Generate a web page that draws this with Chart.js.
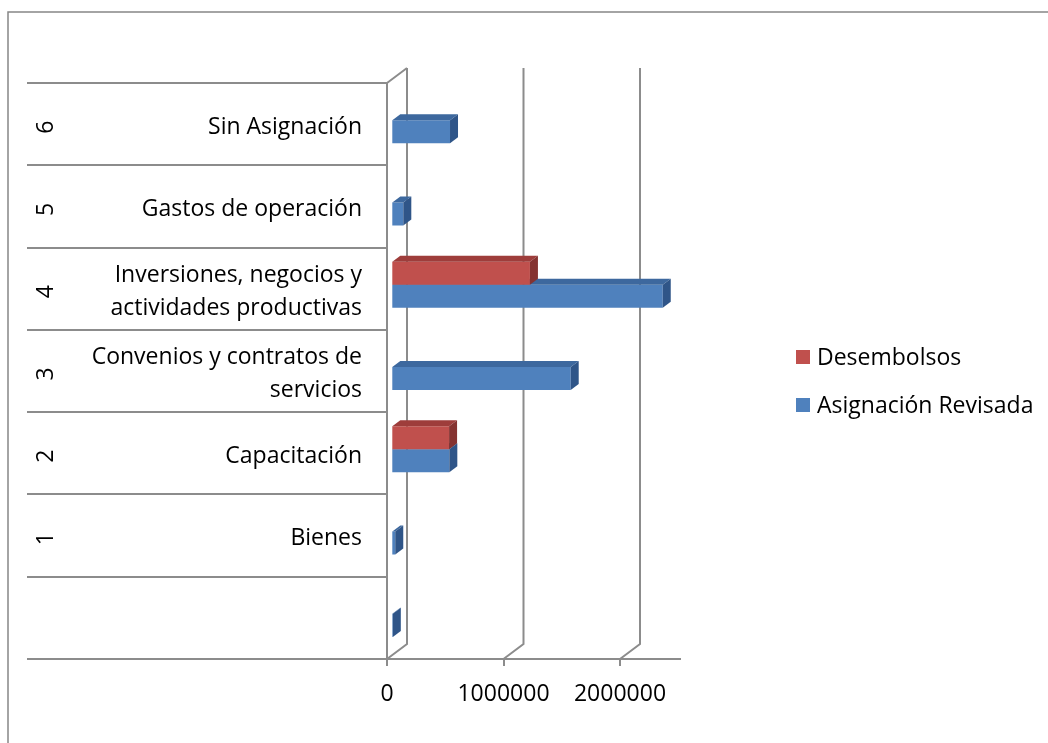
<!DOCTYPE html>
<html>
<head>
<meta charset="utf-8">
<script src="https://cdn.jsdelivr.net/npm/chart.js@4.4.0/dist/chart.umd.min.js"></script>
<style>
  html, body { margin: 0; padding: 0; background: #fff; }
  #wrap { width: 1048px; height: 743px; }
</style>
</head>
<body>
<div id="wrap"><canvas id="myChart" width="1048" height="743"></canvas></div>
<script>
// categories, top row first (as drawn)
const categories = [
    'Sin Asignación',
    'Gastos de operación',
    ['Inversiones, negocios y', 'actividades productivas'],
    ['Convenios y contratos de', 'servicios'],
    'Capacitación',
    'Bienes',
    ''
];
const groupNumbers = ['6', '5', '4', '3', '2', '1', ''];

// series values
const desembolsos = [0, 0, 1190000, 0, 496000, 0, 0];
const asignacionRevisada = [504000, 103000, 2330000, 1540000, 498000, 34000, 13000];

const xTicks = [0, 1000000, 2000000];

const FONT = 'Open Sans';
const GRID = '#8c8c8c';

// fake 3D look of the Excel chart
const WALL_DX = 20, WALL_DY = 15;   // back wall offset
const BAR_SX = 4.3, BAR_SY = -4;    // bars sit a bit into the depth
const BAR_DX = 8, BAR_DY = 6;       // bar depth
const topColors = ['#9e3d3b', '#3d689e'];
const sideColors = ['#853331', '#2f5588'];

const excel3d = {
    id: 'excel3d',
    beforeDraw(chart) {
        const ctx = chart.ctx;
        // outer frame
        ctx.save();
        ctx.strokeStyle = '#878787';
        ctx.lineWidth = 1.5;
        ctx.beginPath();
        ctx.moveTo(8, 743);
        ctx.lineTo(8, 12);
        ctx.lineTo(1048, 12);
        ctx.stroke();
        ctx.restore();
    },
    beforeDatasetsDraw(chart) {
        const ctx = chart.ctx;
        const area = chart.chartArea;
        const x = chart.scales.x;
        ctx.save();
        ctx.strokeStyle = GRID;
        ctx.lineWidth = 2;
        ctx.beginPath();
        ctx.moveTo(area.left, area.top);
        ctx.lineTo(area.left + WALL_DX, area.top - WALL_DY);
        xTicks.forEach(v => {
            const px = x.getPixelForValue(v);
            ctx.moveTo(px + WALL_DX, area.top - WALL_DY);
            ctx.lineTo(px + WALL_DX, area.bottom - WALL_DY);
            ctx.lineTo(px, area.bottom);
        });
        ctx.stroke();
        ctx.restore();

        ctx.save();
        ctx.translate(BAR_SX, BAR_SY);
    },
    afterDatasetDraw(chart, args) {
        const ctx = chart.ctx;
        const i = args.index;
        args.meta.data.forEach(el => {
            const p = el.getProps(['x', 'y', 'base', 'height'], true);
            const left = Math.min(p.x, p.base);
            const right = Math.max(p.x, p.base);
            if (right - left < 0.2) return;
            const top = p.y - p.height / 2;
            const bottom = p.y + p.height / 2;
            ctx.fillStyle = topColors[i];
            ctx.beginPath();
            ctx.moveTo(left, top);
            ctx.lineTo(left + BAR_DX, top - BAR_DY);
            ctx.lineTo(right + BAR_DX, top - BAR_DY);
            ctx.lineTo(right, top);
            ctx.closePath();
            ctx.fill();
            ctx.fillStyle = sideColors[i];
            ctx.beginPath();
            ctx.moveTo(right, top);
            ctx.lineTo(right + BAR_DX, top - BAR_DY);
            ctx.lineTo(right + BAR_DX, bottom - BAR_DY);
            ctx.lineTo(right, bottom);
            ctx.closePath();
            ctx.fill();
        });
    },
    afterDatasetsDraw(chart) {
        chart.ctx.restore();
    },
    afterDraw(chart) {
        const ctx = chart.ctx;
        const area = chart.chartArea;
        const y = chart.scales.y;
        ctx.save();
        // row separators in the label area
        ctx.strokeStyle = GRID;
        ctx.lineWidth = 2;
        ctx.beginPath();
        for (let i = 0; i <= categories.length; i++) {
            const py = Math.round(y.getPixelForValue(i - 0.5));
            ctx.moveTo(27, py);
            ctx.lineTo(area.left, py);
        }
        ctx.stroke();

        // outer level numbers, rotated
        ctx.fillStyle = '#000';
        ctx.font = '23px "' + FONT + '"';
        ctx.textAlign = 'center';
        ctx.textBaseline = 'middle';
        groupNumbers.forEach((g, i) => {
            if (!g) return;
            ctx.save();
            ctx.translate(46, y.getPixelForValue(i) + 3);
            ctx.rotate(-Math.PI / 2);
            ctx.fillText(g, 0, 0);
            ctx.restore();
        });

        // legend
        ctx.textAlign = 'left';
        chart.data.datasets.forEach((ds, i) => {
            const cy = 357 + i * 48;
            ctx.fillStyle = ds.backgroundColor;
            ctx.fillRect(796, cy - 7, 14, 14);
            ctx.fillStyle = '#000';
            ctx.fillText(ds.label, 817, cy + 1);
        });
        ctx.restore();
    }
};

new Chart(document.getElementById('myChart'), {
    type: 'bar',
    data: {
        labels: categories,
        datasets: [{
            label: 'Desembolsos',
            data: desembolsos,
            backgroundColor: '#c0504d',
            borderWidth: 0
        }, {
            label: 'Asignación Revisada',
            data: asignacionRevisada,
            backgroundColor: '#4f81bd',
            borderWidth: 0
        }]
    },
    options: {
        indexAxis: 'y',
        responsive: false,
        animation: false,
        devicePixelRatio: 1,
        categoryPercentage: 0.56,
        barPercentage: 1.0,
        layout: { padding: { left: 0, top: 83, right: 368, bottom: 0 } },
        plugins: {
            legend: { display: false },
            tooltip: { enabled: false }
        },
        scales: {
            x: {
                type: 'linear',
                min: 0,
                max: 2515000,
                afterBuildTicks: s => { s.ticks = xTicks.map(v => ({ value: v })); },
                afterFit: s => { s.height = 84; },
                grid: { display: true, drawOnChartArea: false, drawTicks: true, tickLength: 7, color: GRID, lineWidth: 2 },
                border: { display: true, color: GRID, width: 2 },
                ticks: {
                    color: '#000',
                    font: { family: FONT, size: 23 },
                    padding: 15,
                    maxRotation: 0,
                    autoSkip: false,
                    callback: v => String(v)
                }
            },
            y: {
                type: 'category',
                afterFit: s => { s.width = 387; },
                grid: { display: false },
                border: { display: true, color: GRID, width: 2 },
                ticks: {
                    color: '#000',
                    font: { family: FONT, size: 23, lineHeight: 1.43 },
                    padding: 17,
                    labelOffset: 3,
                    autoSkip: false
                }
            }
        }
    },
    plugins: [excel3d]
});
</script>
</body>
</html>
